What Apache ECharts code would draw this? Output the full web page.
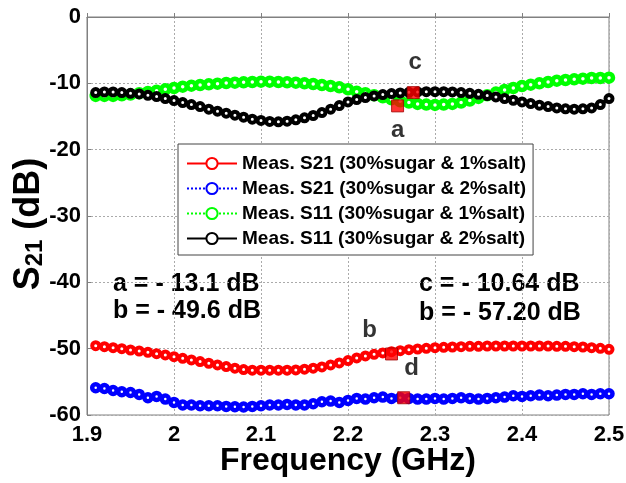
<!DOCTYPE html>
<html>
<head>
<meta charset="utf-8">
<script src="https://cdn.jsdelivr.net/npm/echarts@6/dist/echarts.min.js"></script>
<style>
  html, body { margin: 0; padding: 0; background: #fff; }
  #chart { width: 626px; height: 483px; }
</style>
</head>
<body>
<div id="chart"></div>
<script>
// ==================== Data ====================
const freq = [
    1.91, 1.92, 1.93, 1.94, 1.95, 1.96, 1.97, 1.98, 1.99, 2.00,
    2.01, 2.02, 2.03, 2.04, 2.05, 2.06, 2.07, 2.08, 2.09, 2.10,
    2.11, 2.12, 2.13, 2.14, 2.15, 2.16, 2.17, 2.18, 2.19, 2.20,
    2.21, 2.22, 2.23, 2.24, 2.25, 2.26, 2.27, 2.28, 2.29, 2.30,
    2.31, 2.32, 2.33, 2.34, 2.35, 2.36, 2.37, 2.38, 2.39, 2.40,
    2.41, 2.42, 2.43, 2.44, 2.45, 2.46, 2.47, 2.48, 2.49, 2.50
];

// Meas. S21 (30%sugar & 1%salt)
const s21Salt1 = [
    -49.55, -49.7, -49.85, -50.0, -50.2, -50.35, -50.55, -50.75, -50.95, -51.2,
    -51.45, -51.7, -51.95, -52.2, -52.45, -52.7, -52.95, -53.15, -53.25, -53.25,
    -53.25, -53.25, -53.25, -53.2, -53.1, -52.95, -52.75, -52.45, -52.15, -51.8,
    -51.4, -51.1, -50.85, -50.65, -50.45, -50.3, -50.15, -50.05, -49.95, -49.85,
    -49.8, -49.75, -49.7, -49.65, -49.65, -49.6, -49.6, -49.6, -49.6, -49.6,
    -49.6, -49.6, -49.6, -49.65, -49.65, -49.7, -49.75, -49.85, -49.95, -50.1
];

// Meas. S21 (30%sugar & 2%salt)
const s21Salt2 = [
    -55.9, -56.0, -56.3, -56.5, -56.6, -56.9, -57.4, -57.2, -57.6, -58.1,
    -58.5, -58.5, -58.6, -58.6, -58.6, -58.7, -58.75, -58.8, -58.7, -58.6,
    -58.5, -58.5, -58.4, -58.5, -58.5, -58.3, -58.0, -57.9, -58.1, -57.8,
    -57.5, -57.6, -57.4, -57.3, -57.5, -57.4, -57.5, -57.6, -57.6, -57.5,
    -57.6, -57.5, -57.4, -57.5, -57.6, -57.5, -57.4, -57.3, -57.1, -57.2,
    -57.1, -57.0, -57.1, -57.0, -56.9, -56.9, -56.8, -56.9, -56.8, -56.8
];

// Meas. S11 (30%sugar & 1%salt)
const s11Salt1 = [
    -11.9, -11.9, -11.9, -11.8, -11.7, -11.5, -11.3, -11.1, -10.9, -10.7,
    -10.5, -10.35, -10.25, -10.15, -10.05, -9.95, -9.9, -9.85, -9.8, -9.75,
    -9.75, -9.8, -9.85, -9.9, -10.0, -10.1, -10.25, -10.4, -10.6, -10.9,
    -11.25, -11.5, -11.8, -12.1, -12.4, -12.7, -12.9, -13.1, -13.2, -13.25,
    -13.2, -13.1, -12.9, -12.6, -12.2, -11.8, -11.4, -11.0, -10.7, -10.4,
    -10.2, -10.0, -9.8, -9.6, -9.5, -9.4, -9.3, -9.2, -9.2, -9.15
];

// Meas. S11 (30%sugar & 2%salt)
const s11Salt2 = [
    -11.4, -11.3, -11.3, -11.4, -11.5, -11.6, -11.8, -12.0, -12.3, -12.6,
    -12.9, -13.2, -13.5, -13.9, -14.2, -14.5, -14.8, -15.1, -15.4, -15.6,
    -15.75, -15.8, -15.7, -15.5, -15.2, -14.85, -14.4, -13.9, -13.35, -12.8,
    -12.45, -12.15, -11.9, -11.7, -11.55, -11.45, -11.35, -11.3, -11.25, -11.25,
    -11.25, -11.3, -11.4, -11.5, -11.65, -11.85, -12.05, -12.3, -12.55, -12.8,
    -13.05, -13.3, -13.5, -13.7, -13.85, -13.9, -13.85, -13.7, -13.2, -12.3
];

const seriesNames = [
    'Meas. S21 (30%sugar & 1%salt)',
    'Meas. S21 (30%sugar & 2%salt)',
    'Meas. S11 (30%sugar & 1%salt)',
    'Meas. S11 (30%sugar & 2%salt)'
];

// marked points a, b, c, d
const markNames = ['a', 'b', 'c', 'd'];
const markFreq = [2.257, 2.250, 2.275, 2.264];
const markVals = [-13.4, -50.8, -11.4, -57.4];

const noteLeft = ['a = - 13.1 dB', 'b = - 49.6 dB'];
const noteRight = ['c = - 10.64 dB', 'b = - 57.20 dB'];

// ==================== Chart ====================
const FONT = 'Liberation Sans, Arial, sans-serif';
const zip = (xs, ys) => xs.map((x, i) => [x, ys[i]]);

function lineSeries(name, values, color, type, size, bw) {
    return {
        name: name,
        type: 'line',
        data: zip(freq, values),
        symbol: 'circle',
        symbolSize: size,
        showAllSymbol: true,
        itemStyle: { color: '#fff', borderColor: color, borderWidth: bw },
        lineStyle: { color: color, width: 4, type: type },
        emphasis: { disabled: true },
        z: 2
    };
}

const labelOffsets = [[0, 24], [-22, -24], [2, -30], [8, -29]];

const chart = echarts.init(document.getElementById('chart'));
chart.setOption({
    animation: false,
    backgroundColor: '#fff',
    grid: {
        left: 87, right: 17, top: 17, bottom: 68,
        outerBoundsMode: 'none',
        show: true, borderColor: '#808080', borderWidth: 1
    },
    legend: {
        orient: 'vertical',
        left: 178,
        top: 144,
        padding: [10, 7, 7, 8],
        itemWidth: 50,
        itemHeight: 14,
        itemGap: 6,
        backgroundColor: '#fff',
        borderColor: '#444',
        borderWidth: 1,
        data: seriesNames,
        textStyle: { fontFamily: FONT, fontSize: 19, fontWeight: 'bold', color: '#000' }
    },
    xAxis: {
        type: 'value',
        min: 1.9, max: 2.5, interval: 0.1,
        name: 'Frequency (GHz)',
        nameLocation: 'middle',
        nameGap: 30,
        nameMoveOverlap: false,
        nameTextStyle: { fontFamily: FONT, fontSize: 32, fontWeight: 'bold', color: '#000' },
        axisLine: { lineStyle: { color: '#808080' } },
        axisTick: { inside: true, length: 4, lineStyle: { color: '#808080' } },
        axisLabel: { fontFamily: FONT, fontSize: 22, fontWeight: 'bold', color: '#000', margin: 9 },
        splitLine: { lineStyle: { color: '#aaa', type: [2, 2] } }
    },
    yAxis: {
        type: 'value',
        min: -60, max: 0, interval: 10,
        name: '{b|S}{s|21}{b| (dB)}',
        nameLocation: 'middle',
        nameRotate: 90,
        nameGap: 40,
        nameMoveOverlap: false,
        nameTextStyle: {
            padding: [0, 16, 0, 0],
            rich: {
                b: { fontFamily: FONT, fontSize: 36, fontWeight: 'bold', color: '#000', lineHeight: 36 },
                s: { fontFamily: FONT, fontSize: 24, fontWeight: 'bold', color: '#000', lineHeight: 36, verticalAlign: 'bottom', padding: [12, 0, 0, 0] }
            }
        },
        axisLine: { lineStyle: { color: '#808080' } },
        axisTick: { inside: true, length: 4, lineStyle: { color: '#808080' } },
        axisLabel: { fontFamily: FONT, fontSize: 22, fontWeight: 'bold', color: '#000', margin: 6 },
        splitLine: { lineStyle: { color: '#aaa', type: [2, 2] } }
    },
    series: [
        lineSeries(seriesNames[0], s21Salt1, '#ff0000', 'solid', 7, 4),
        lineSeries(seriesNames[1], s21Salt2, '#0000ff', 'dotted', 7, 4.5),
        lineSeries(seriesNames[2], s11Salt1, '#00ff00', 'dotted', 8, 4.5),
        lineSeries(seriesNames[3], s11Salt2, '#000000', 'solid', 7, 4),
        {
            type: 'scatter',
            data: markNames.map((n, i) => ({
                name: n,
                value: [markFreq[i], markVals[i]],
                label: { offset: labelOffsets[i] }
            })),
            symbol: 'rect',
            symbolSize: 12,
            itemStyle: { color: '#ff0000', borderColor: '#a00000', borderWidth: 1 },
            label: {
                show: true,
                position: 'inside',
                formatter: '{b}',
                fontFamily: FONT, fontSize: 24, fontWeight: 'bold', color: '#000'
            },
            emphasis: { disabled: true },
            z: 5
        }
    ],
    graphic: [
        { type: 'text', left: 113, top: 272, style: { text: noteLeft[0], font: 'bold 25px ' + FONT, fill: '#000' } },
        { type: 'text', left: 113, top: 299, style: { text: noteLeft[1], font: 'bold 25px ' + FONT, fill: '#000' } },
        { type: 'text', left: 419, top: 272, style: { text: noteRight[0], font: 'bold 25px ' + FONT, fill: '#000' } },
        { type: 'text', left: 419, top: 301, style: { text: noteRight[1], font: 'bold 25px ' + FONT, fill: '#000' } }
    ]
});
</script>
</body>
</html>
